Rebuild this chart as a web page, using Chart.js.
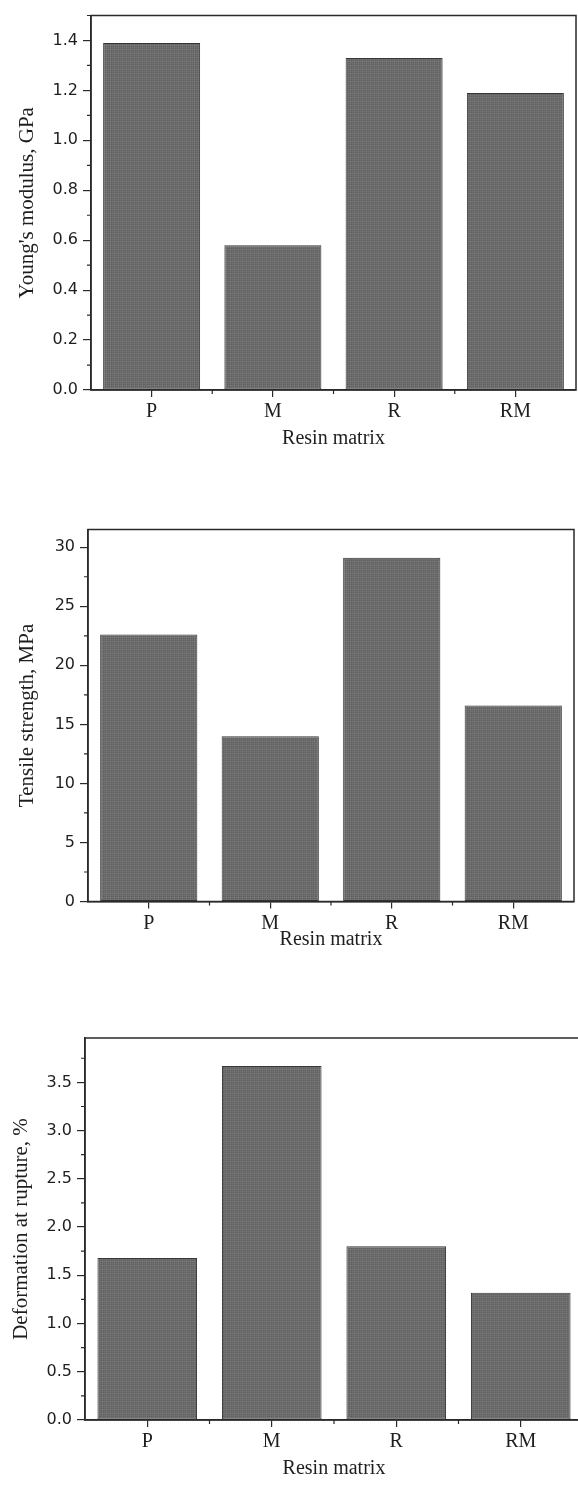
<!DOCTYPE html>
<html>
<head>
<meta charset="utf-8">
<script src="https://cdn.jsdelivr.net/npm/chart.js@4.4.1/dist/chart.umd.min.js"></script>
<style>
  html, body { margin: 0; padding: 0; background: #fff; }
  body { width: 578px; height: 1485px; overflow: hidden; position: relative; }
  canvas { position: absolute; left: 0; }
</style>
</head>
<body>
<canvas id="modulusChart" width="578" height="470" style="top:0px"></canvas>
<canvas id="strengthChart" width="578" height="480" style="top:500px"></canvas>
<canvas id="ruptureChart" width="600" height="485" style="top:1000px"></canvas>
<script>
// --- data ---
const resins = ['P', 'M', 'R', 'RM'];

const modulus = [1.39, 0.58, 1.33, 1.19];
const modulusTicks = [0.0, 0.2, 0.4, 0.6, 0.8, 1.0, 1.2, 1.4];

const strength = [22.6, 14.0, 29.1, 16.6];
const strengthTicks = [0, 5, 10, 15, 20, 25, 30];

const rupture = [1.68, 3.67, 1.80, 1.32];
const ruptureTicks = [0.0, 0.5, 1.0, 1.5, 2.0, 2.5, 3.0, 3.5];

const ink = '#2a2a2a';
const sansFont = { family: '"DejaVu Sans", sans-serif', size: 16 };
const serifFont = { family: '"Liberation Serif", "Times New Roman", serif', size: 20 };
const yTitleFont = { family: '"Liberation Serif", "Times New Roman", serif', size: 21 };

// grainy grey fill like the printed figure
function barPattern() {
  const c = document.createElement('canvas');
  c.width = 4; c.height = 4;
  const g = c.getContext('2d');
  const shades = ['#696969', '#5a5a5a', '#747474', '#616161'];
  for (let y = 0; y < 4; y++)
    for (let x = 0; x < 4; x++) {
      g.fillStyle = shades[(x * 3 + y * 2 + (x * y)) % 4];
      g.fillRect(x, y, 1, 1);
    }
  return g.createPattern(c, 'repeat');
}

// frame + minor ticks
const framePlugin = {
  id: 'frame',
  afterDraw(chart, args, opts) {
    const { ctx, chartArea: a, scales: { x, y } } = chart;
    ctx.save();
    ctx.strokeStyle = ink;
    ctx.lineWidth = 1.5;
    ctx.strokeRect(a.left, a.top, a.right - a.left, a.bottom - a.top);

    ctx.lineWidth = 1.2;
    ctx.beginPath();
    for (let v = opts.minor; v <= y.max + 1e-9; v += opts.minor * 2) {
      const py = y.getPixelForValue(v);
      ctx.moveTo(a.left - 4, py);
      ctx.lineTo(a.left, py);
    }
    for (let i = 1; i < resins.length; i++) {
      const px = (x.getPixelForValue(i - 1) + x.getPixelForValue(i)) / 2;
      ctx.moveTo(px, a.bottom);
      ctx.lineTo(px, a.bottom + 4);
    }
    ctx.stroke();
    ctx.restore();
  }
};

function makeChart(id, values, tickValues, decimals, yMax, minor, title, box) {
  const canvas = document.getElementById(id);
  return new Chart(canvas, {
    type: 'bar',
    data: {
      labels: resins,
      datasets: [{
        data: values,
        backgroundColor: barPattern(),
        borderColor: '#363636',
        borderWidth: 1,
        borderSkipped: false,
        categoryPercentage: 1,
        barPercentage: 0.8
      }]
    },
    options: {
      responsive: false,
      animation: false,
      devicePixelRatio: 1,
      layout: { padding: { top: box.top, right: canvas.width - box.right, left: 0, bottom: 0 } },
      plugins: { legend: { display: false }, tooltip: { enabled: false }, frame: { minor } },
      scales: {
        x: {
          grid: { offset: false, drawOnChartArea: false, drawTicks: true, tickLength: 7, color: ink, lineWidth: 1.2 },
          border: { display: true, color: ink, width: 1.5 },
          ticks: { color: '#1e1e1e', font: serifFont, padding: 3 },
          title: { display: true, text: 'Resin matrix', color: '#1e1e1e', font: serifFont, padding: { top: 0, bottom: box.titleBottom } },
          afterFit: s => { s.height = canvas.height - box.bottom; }
        },
        y: {
          min: 0,
          max: yMax,
          afterBuildTicks: s => { s.ticks = tickValues.map(v => ({ value: v })); },
          grid: { drawOnChartArea: false, drawTicks: true, tickLength: 8, color: ink, lineWidth: 1.2 },
          border: { display: true, color: ink, width: 1.5 },
          ticks: { color: '#1e1e1e', font: sansFont, padding: 5, callback: v => Number(v).toFixed(decimals) },
          title: { display: true, text: title, color: '#1e1e1e', font: yTitleFont, padding: { top: box.titleLeft, bottom: 0 } },
          afterFit: s => { s.width = box.left; }
        }
      }
    },
    plugins: [framePlugin]
  });
}

makeChart('modulusChart', modulus, modulusTicks, 1, 1.5, 0.1, "Young's modulus, GPa",
  { left: 91, top: 15.5, right: 576, bottom: 390, titleBottom: 19, titleLeft: 15 });

makeChart('strengthChart', strength, strengthTicks, 0, 31.5, 2.5, 'Tensile strength, MPa',
  { left: 88, top: 29.5, right: 574, bottom: 401.5, titleBottom: 28, titleLeft: 15 });

makeChart('ruptureChart', rupture, ruptureTicks, 1, 3.96, 0.25, 'Deformation at rupture, %',
  { left: 85, top: 38, right: 583, bottom: 420, titleBottom: 4, titleLeft: 9 });
</script>
</body>
</html>
